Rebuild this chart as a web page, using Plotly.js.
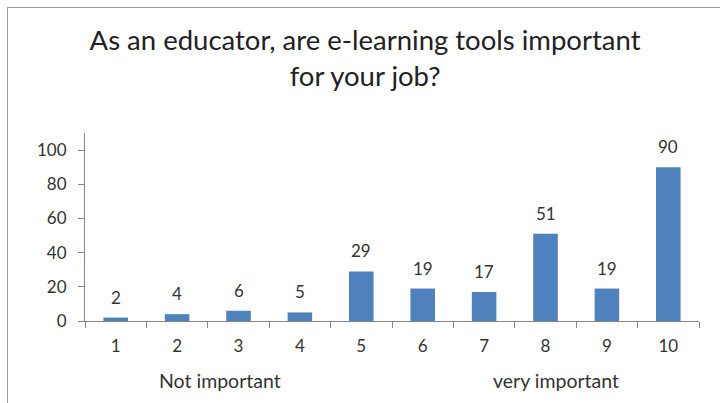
<!DOCTYPE html>
<html>
<head>
<meta charset="utf-8">
<script src="https://cdn.plot.ly/plotly-3.0.1.min.js"></script>
<style>
html,body{margin:0;padding:0;background:#fff;}
#wrap{position:relative;width:720px;height:403px;overflow:hidden;}
#chart{width:720px;height:403px;}
#frame{position:absolute;left:7px;top:7px;width:800px;height:500px;border:1.5px solid #9a9a9a;pointer-events:none;}
</style>
</head>
<body>
<div id="wrap"><div id="chart"></div><div id="frame"></div></div>
<script>
const categories = ["1","2","3","4","5","6","7","8","9","10"];
const counts = [2,4,6,5,29,19,17,51,19,90];
const yTicks = [0,20,40,60,80,100];
const titleText = "As an educator, are e-learning tools important<br>for your job?";
const lowLabel = "Not important";
const highLabel = "very important";

const FONT = "Lato, 'Open Sans', sans-serif";
const TXT = "#333333";

const trace = {
  type: "bar",
  x: categories,
  y: counts,
  marker: {color: "#4F81BD"},
  width: 0.4,
  hoverinfo: "none"
};

const labelAnns = categories.map((c, i) => ({
  x: i, y: counts[i], xref: "x", yref: "y",
  text: String(counts[i]), showarrow: false,
  yanchor: "bottom", yshift: 8,
  font: {family: FONT, size: 17, color: TXT}
}));

const layout = {
  width: 720, height: 403,
  margin: {l: 85, r: 21, t: 133, b: 82, pad: 0},
  paper_bgcolor: "#fff", plot_bgcolor: "#fff",
  showlegend: false,
  font: {family: FONT, size: 17, color: TXT},
  title: {
    text: titleText,
    font: {family: FONT, size: 27.5, color: "#222222"},
    x: 0.507, xref: "container", xanchor: "center",
    y: 0.876, yref: "container", yanchor: "top"
  },
  xaxis: {
    type: "category",
    range: [-0.5, 9.5],
    showline: true, linecolor: "#868686", linewidth: 1,
    ticks: "outside", tickson: "boundaries", ticklen: 6, tickcolor: "#868686",
    showgrid: false, zeroline: false,
    tickfont: {family: FONT, size: 17, color: TXT},
    ticklabelstandoff: 10
  },
  yaxis: {
    range: [0, 110],
    tickvals: yTicks,
    showline: true, linecolor: "#868686", linewidth: 1,
    ticks: "outside", ticklen: 6, tickcolor: "#868686",
    showgrid: false, zeroline: false,
    tickfont: {family: FONT, size: 17, color: TXT},
    ticklabelstandoff: 8
  },
  annotations: labelAnns.concat([
    {text: lowLabel, xref: "paper", yref: "paper", x: 0.22, y: -0.316,
     xanchor: "center", yanchor: "middle", showarrow: false,
     font: {family: FONT, size: 19.5, color: TXT}},
    {text: highLabel, xref: "paper", yref: "paper", x: 0.767, y: -0.316,
     xanchor: "center", yanchor: "middle", showarrow: false,
     font: {family: FONT, size: 19.5, color: TXT}}
  ])
};

Plotly.newPlot("chart", [trace], layout, {staticPlot: true, displayModeBar: false});
</script>
</body>
</html>
